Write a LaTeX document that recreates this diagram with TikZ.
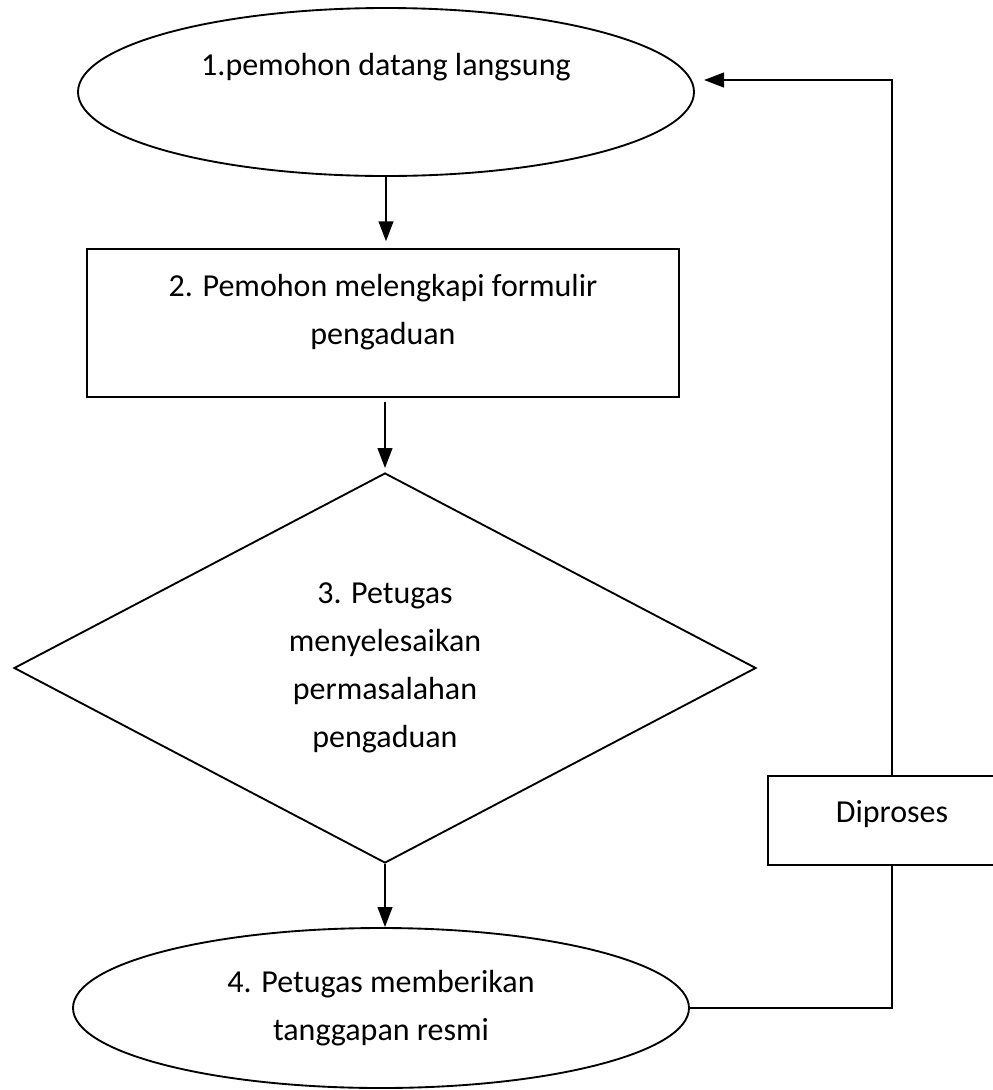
\documentclass[tikz,border=0pt]{standalone}
\usepackage{fontspec}
\setmainfont{Carlito}
\usetikzlibrary{shapes.geometric,arrows.meta,calc}
\begin{document}
\begin{tikzpicture}[x=0.75pt,y=-0.75pt,
  line/.style={line width=1.6pt},
  arr/.style={line width=1.6pt,-{Triangle[length=15pt,width=11pt]}},
  oval/.style={ellipse,draw,line width=1.4pt,minimum width=462pt,minimum height=126pt,inner sep=0pt},
  box/.style={rectangle,draw,line width=1.6pt,inner sep=0pt},
  dec/.style={diamond,draw,line width=1.4pt,inner sep=0pt,minimum width=556.5pt,minimum height=292.5pt},
  lbl/.style={font=\fontsize{24}{36}\selectfont,align=center}
]
\useasboundingbox (0,0) rectangle (993,1090);
\clip (0,0) rectangle (993,1090);

\node[oval,label={[lbl,yshift=18.75pt]center:1.pemohon datang langsung}] (e1) at (386,92) {};
\node[box,minimum width=444pt,minimum height=111pt,label={[lbl,yshift=8pt]center:2. Pemohon melengkapi formulir\\pengaduan}] (r2) at (383,323) {};
\node[dec,lbl] (d3) at (385,668) {3. Petugas\\menyelesaikan\\permasalahan\\pengaduan};
\node[oval,minimum height=120pt,lbl] (e4) at (381,1008) {4. Petugas memberikan\\tanggapan resmi};
\node[box,minimum width=186pt,minimum height=66.75pt,fill=white,label={[lbl,yshift=5pt]center:Diproses}] (p) at (892,820.5) {};
\coordinate (tip) at (704,80);

\draw[arr,shorten >=5pt] (e1.south) -- (e1.south |- r2.north);
\draw[arr,shorten <=3pt,shorten >=3pt] (d3.north |- r2.south) -- (d3.north);
\draw[arr] (d3.south) -- (d3.south |- e4.north);
\draw[line] (e4.east) -| (p.south);
\draw[arr] (p.north) |- (tip);
\end{tikzpicture}
\end{document}
